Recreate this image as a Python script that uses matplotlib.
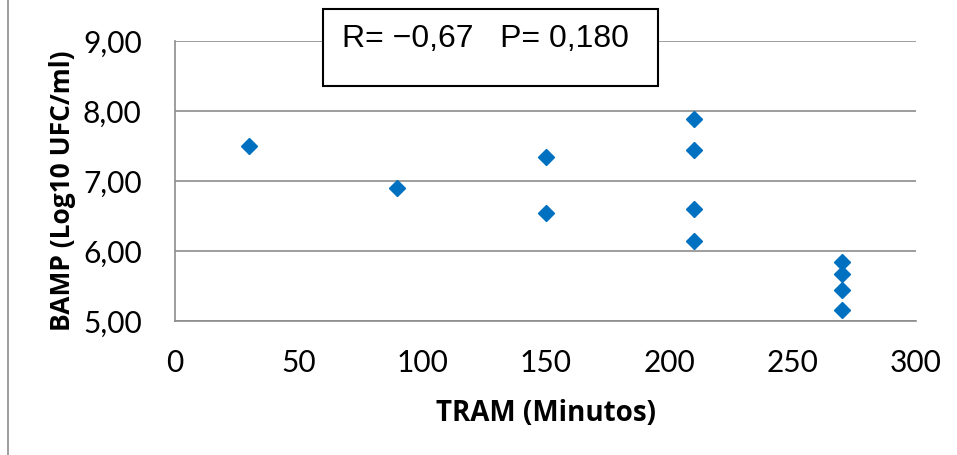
import matplotlib.pyplot as plt
from matplotlib.ticker import FuncFormatter
from matplotlib.lines import Line2D

# TRAM (minutes) vs BAMP (log10 UFC/ml)
tram = [30, 90, 150, 150, 210, 210, 210, 210, 270, 270, 270, 270]
bamp = [7.50, 6.90, 7.35, 6.55, 7.88, 7.44, 6.60, 6.15, 5.84, 5.67, 5.44, 5.16]
x_ticks = [0, 50, 100, 150, 200, 250, 300]
y_ticks = [5, 6, 7, 8, 9]
stats_text = "R= \u22120,67   P= 0,180"

fig = plt.figure(figsize=(9.57, 4.55), dpi=100)
ax = fig.add_axes([175 / 957, 1 - 321 / 455, (916 - 175) / 957, (321 - 41) / 455])

ax.plot(tram, bamp, linestyle='none', marker='D', markersize=8,
        color='#0070C0', zorder=3)

ax.set_xlim(0, 300)
ax.set_ylim(5, 9)
ax.set_xticks(x_ticks)
ax.set_yticks(y_ticks)
ax.yaxis.set_major_formatter(FuncFormatter(lambda v, p: f"{v:.2f}".replace('.', ',')))

tick_font = 'Lato'
for lab in ax.get_xticklabels() + ax.get_yticklabels():
    lab.set_fontfamily(tick_font)
    lab.set_fontsize(21.5)
ax.tick_params(axis='x', length=0, pad=20)
ax.tick_params(axis='y', length=0, pad=24)

ax.grid(axis='y', color='#8c8c8c', linewidth=1.2)
ax.set_axisbelow(True)
for side in ['top', 'right']:
    ax.spines[side].set_visible(False)
ax.spines['left'].set_color('#8c8c8c')
ax.spines['bottom'].set_color('#8c8c8c')
ax.spines['left'].set_linewidth(1.2)
ax.spines['bottom'].set_linewidth(1.2)

ax.set_xlabel('TRAM (Minutos)', fontfamily='Open Sans', fontweight='bold',
              fontsize=20, labelpad=16)
ax.set_ylabel('BAMP (Log10 UFC/ml)', fontfamily='Open Sans', fontweight='bold',
              fontsize=19, va='center')
ax.yaxis.set_label_coords((63 - 175) / 741, (321 - 191) / 280)

# stats box
fig.text(342 / 957, 1 - 39 / 455, stats_text, fontfamily='Liberation Sans',
         fontsize=23, va='center', ha='left', zorder=5)
box = plt.Rectangle((323 / 957, 1 - 86 / 455), (658 - 323) / 957, (86 - 9) / 455,
                    transform=fig.transFigure, facecolor='white',
                    edgecolor='black', linewidth=1.5, zorder=4)
fig.patches.append(box)

# chart border on the left
fig.add_artist(Line2D([8 / 957, 8 / 957], [0, 1], transform=fig.transFigure,
                      color='#8c8c8c', linewidth=1.2))

fig.savefig('out.png', dpi=100)
